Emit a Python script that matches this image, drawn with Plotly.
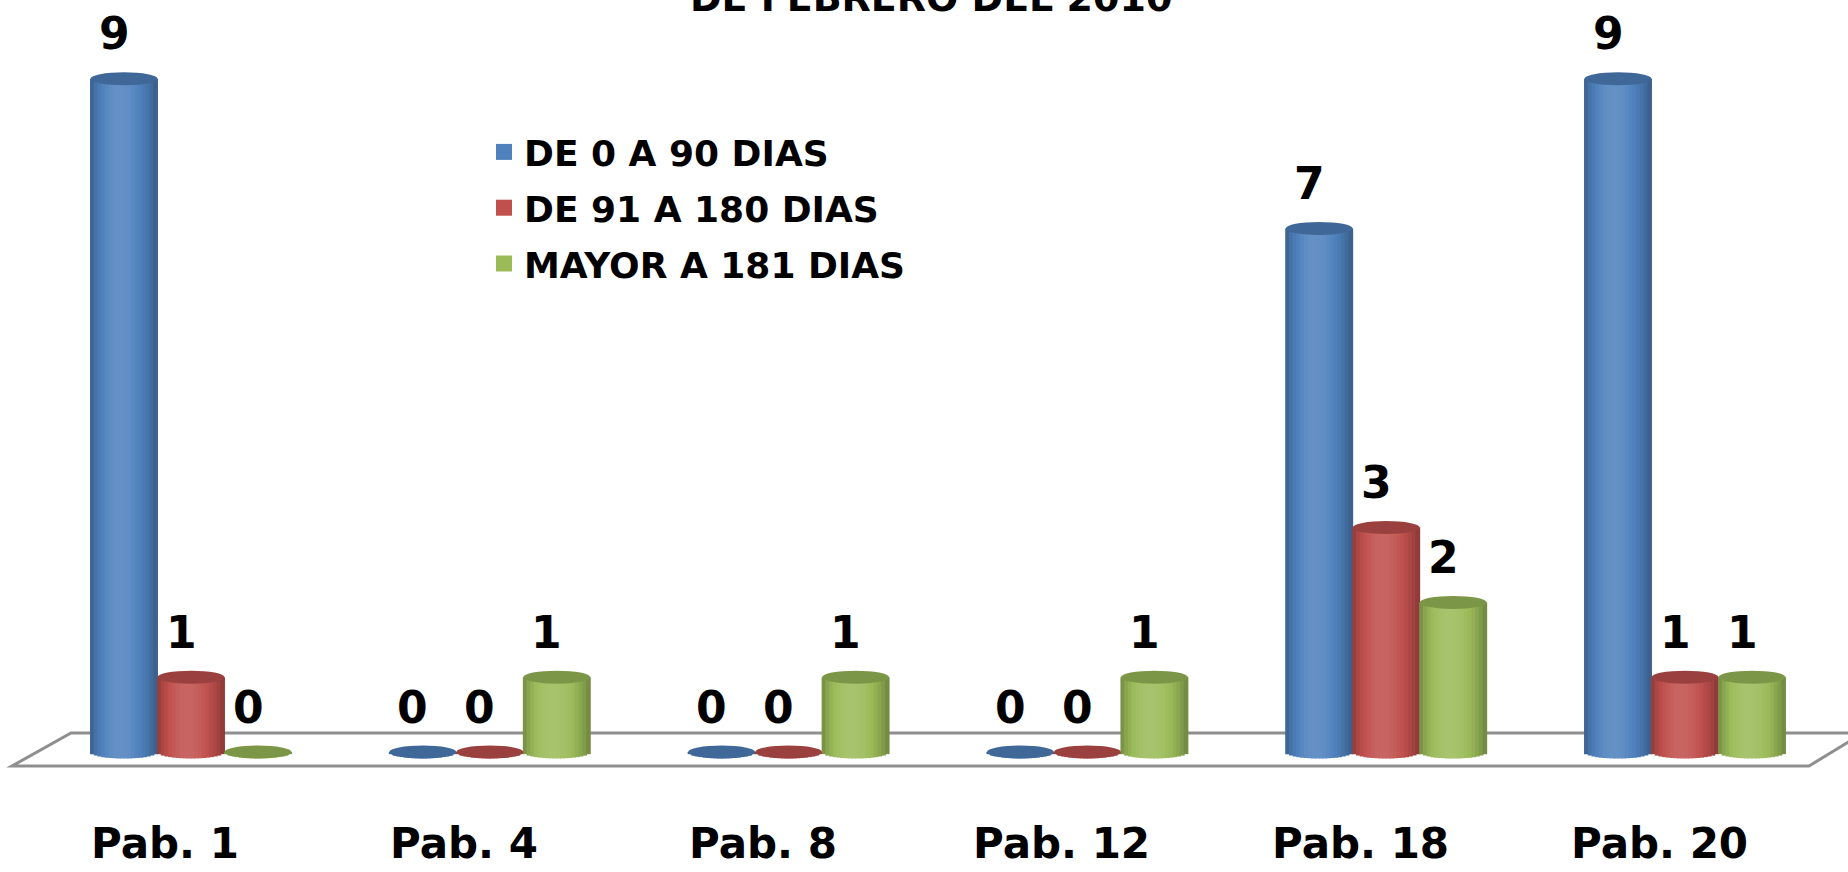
import math
import plotly.graph_objects as go

# ---------------- data ----------------
categories = ["Pab. 1", "Pab. 4", "Pab. 8", "Pab. 12", "Pab. 18", "Pab. 20"]
series_names = ["DE 0 A 90 DIAS", "DE 91 A 180 DIAS", "MAYOR A 181 DIAS"]
de_0_a_90 = [9, 0, 0, 0, 7, 9]
de_91_a_180 = [1, 0, 0, 0, 3, 1]
mayor_a_181 = [0, 1, 1, 1, 2, 1]
title_text = "DE FEBRERO DEL 2010"

series_values = [de_0_a_90, de_91_a_180, mayor_a_181]
base_colors = ["#4F81BD", "#C0504D", "#9BBB59"]

# ---------------- geometry (styles) ----------------
W, H = 1848, 872
PX_PER_CAT = 298.8
CAT0_PX = 191.0
ZERO_PX = 752.0
PX_PER_UNIT = 74.8

xr = [-CAT0_PX / PX_PER_CAT, (W - CAT0_PX) / PX_PER_CAT]
yr = [-(H - ZERO_PX) / PX_PER_UNIT, ZERO_PX / PX_PER_UNIT]

bar_w = 67.0 / PX_PER_CAT
offsets = [-bar_w, 0.0, bar_w]
ell_h = 13.0 / PX_PER_UNIT
K = 18
FONT = "DejaVu Sans"


def hex_rgb(h):
    h = h.lstrip("#")
    return [int(h[i:i + 2], 16) for i in (0, 2, 4)]


def shade(h, f):
    r, g, b = hex_rgb(h)
    if f <= 1:
        c = [v * f for v in (r, g, b)]
    else:
        t = f - 1
        c = [v + (255 - v) * t for v in (r, g, b)]
    return "rgb(%d,%d,%d)" % tuple(max(0, min(255, round(v))) for v in c)


def cyl_factor(u):
    uu = u ** 0.87
    return 0.70 + 0.42 * (math.sin(math.pi * uu) ** 0.8)


fig = go.Figure()

# cylinder bodies as vertical strips
for s, vals in enumerate(series_values):
    for k in range(K):
        u = (k + 0.5) / K
        depth = (ell_h / 2) * math.sqrt(max(0.0, 1 - (2 * u - 1) ** 2))
        xs = [i + offsets[s] + (u - 0.5) * bar_w for i in range(len(categories))]
        ys = [v + depth for v in vals]
        fig.add_trace(go.Bar(
            x=xs, y=ys, base=-depth, width=bar_w / K * 1.25,
            marker=dict(color=shade(base_colors[s], cyl_factor(u)), line=dict(width=0)),
            showlegend=False, hoverinfo="skip",
        ))

# legend entries
for s, name in enumerate(series_names):
    fig.add_trace(go.Scatter(
        x=[None], y=[None], mode="markers", name=name, legendgroup=name,
        marker=dict(symbol="square", size=16, color=base_colors[s]),
    ))

shapes = []


def P(px, py):
    return "%.5f,%.5f" % (px / W, 1 - py / H)


floor = "M %s L %s L %s L %s Z" % (P(12, 766), P(71, 733), P(1863, 733), P(1809, 766))
shapes.append(dict(type="path", xref="paper", yref="paper", path=floor,
                   fillcolor="white", line=dict(color="#8f8f8f", width=3), layer="below"))

annotations = []
for s, vals in enumerate(series_values):
    cap = shade(base_colors[s], 0.80)
    for i, v in enumerate(vals):
        cx = i + offsets[s]
        shapes.append(dict(type="circle", xref="x", yref="y",
                           x0=cx - bar_w / 2, x1=cx + bar_w / 2,
                           y0=v - ell_h / 2, y1=v + ell_h / 2,
                           fillcolor=cap, line=dict(width=0), layer="above"))
        annotations.append(dict(x=cx, y=v, xref="x", yref="y", text=str(v),
                                showarrow=False, xshift=-10, yshift=45,
                                yanchor="middle", xanchor="center",
                                font=dict(family=FONT, size=44, color="black", weight="bold")))

label_y = -(843 - ZERO_PX) / PX_PER_UNIT
for i, c in enumerate(categories):
    annotations.append(dict(x=i - 0.087, y=label_y, xref="x", yref="y", text=c,
                            showarrow=False, yanchor="middle", xanchor="center",
                            font=dict(family=FONT, size=42, color="black", weight="bold")))

annotations.append(dict(x=931 / W, y=1, xref="paper", yref="paper", text=title_text,
                        showarrow=False, yanchor="bottom", xanchor="center", yshift=-22,
                        font=dict(family=FONT, size=38, color="black", weight="bold")))

fig.update_layout(
    width=W, height=H,
    margin=dict(l=0, r=0, t=0, b=0),
    paper_bgcolor="white", plot_bgcolor="white",
    barmode="overlay",
    xaxis=dict(range=xr, visible=False, fixedrange=True),
    yaxis=dict(range=yr, visible=False, fixedrange=True),
    shapes=shapes, annotations=annotations,
    showlegend=True,
    legend=dict(x=484 / W, y=1 - 122 / H, xanchor="left", yanchor="top",
                bgcolor="rgba(0,0,0,0)", traceorder="grouped", tracegroupgap=6,
                font=dict(family=FONT, size=36, color="black", weight="bold")),
)

fig.write_html("out.html", config={"displayModeBar": False},
               post_script="document.body.style.margin='0';document.body.style.overflow='hidden';")
